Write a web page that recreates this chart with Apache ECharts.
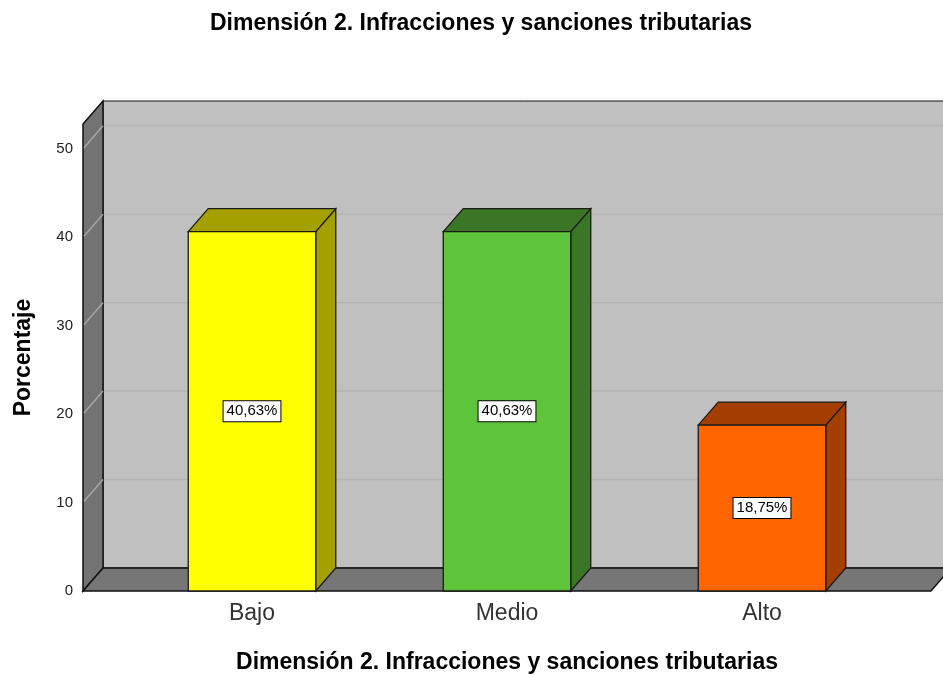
<!DOCTYPE html>
<html>
<head>
<meta charset="utf-8">
<script src="https://cdn.jsdelivr.net/npm/echarts@6/dist/echarts.min.js"></script>
<style>
html, body { margin: 0; padding: 0; background: #fff; }
#chart { width: 943px; height: 675px; }
</style>
</head>
<body>
<div id="chart"></div>
<script>
// data
const categories = ['Bajo', 'Medio', 'Alto'];
const percentages = [40.63, 40.63, 18.75];
const frontColors = ['#ffff00', '#5ec43c', '#ff6600'];
const sideColors = ['#a3a000', '#3b7526', '#a33f00'];
const gridTicks = [10, 20, 30, 40, 50];
const titleText = 'Dimensión 2. Infracciones y sanciones tributarias';

// 3D look: depth offset and wall padding around the category bands
const DX = 20, DY = -23, PAD = 41.5, Y_MAX = 52.8;
const FONT = '"Liberation Sans", Arial, sans-serif';

function renderWalls (params, api) {
  const cs = params.coordSys;
  const x0 = cs.x - PAD;
  const x1 = cs.x + cs.width + PAD;
  const yTop = api.coord([0, Y_MAX])[1];
  const yBase = api.coord([0, 0])[1];
  const children = [];
  // back wall
  children.push({
    type: 'rect',
    shape: { x: x0 + DX, y: yTop + DY, width: x1 - x0 + 20, height: yBase - yTop },
    style: { fill: '#c0c0c0', stroke: '#111', lineWidth: 1 }
  });
  // left wall
  children.push({
    type: 'polygon',
    shape: { points: [[x0, yTop], [x0 + DX, yTop + DY], [x0 + DX, yBase + DY], [x0, yBase]] },
    style: { fill: '#737373', stroke: '#111', lineWidth: 1.5 }
  });
  gridTicks.forEach(v => {
    const y = api.coord([0, v])[1];
    children.push({
      type: 'line',
      shape: { x1: x0 + DX + 1, y1: y + DY, x2: x1 + DX + 20, y2: y + DY },
      style: { stroke: '#b3b3b3', lineWidth: 1.5 }
    });
    children.push({
      type: 'line',
      shape: { x1: x0 + 1, y1: y - 1, x2: x0 + DX, y2: y + DY },
      style: { stroke: '#a6a6a6', lineWidth: 1.5 }
    });
  });
  // floor
  children.push({
    type: 'polygon',
    shape: { points: [[x0, yBase], [x0 + DX, yBase + DY], [x1 + DX, yBase + DY], [x1, yBase]] },
    style: { fill: '#767676', stroke: '#111', lineWidth: 1.5 }
  });
  return { type: 'group', children: children };
}

function renderBar (params, api) {
  const idx = params.dataIndex;
  const v = api.value(1);
  const top = api.coord([api.value(0), v]);
  const base = api.coord([api.value(0), 0]);
  const w = api.size([1, 0])[0] * 0.5;
  const xl = top[0] - w / 2;
  const xr = top[0] + w / 2;
  const yt = top[1];
  const yb = base[1];
  const edge = { stroke: '#1a1a1a', lineWidth: 1.3 };
  const label = v.toFixed(2).replace('.', ',') + '%';
  return {
    type: 'group',
    children: [
      {
        type: 'polygon',
        shape: { points: [[xr, yb], [xr + DX, yb + DY], [xr + DX, yt + DY], [xr, yt]] },
        style: Object.assign({ fill: sideColors[idx] }, edge)
      },
      {
        type: 'polygon',
        shape: { points: [[xl, yt], [xl + DX, yt + DY], [xr + DX, yt + DY], [xr, yt]] },
        style: Object.assign({ fill: sideColors[idx] }, edge)
      },
      {
        type: 'rect',
        shape: { x: xl, y: yt, width: w, height: yb - yt },
        style: Object.assign({ fill: frontColors[idx] }, edge)
      },
      {
        type: 'text',
        x: top[0],
        y: (yt + yb) / 2,
        style: {
          text: label,
          align: 'center',
          verticalAlign: 'middle',
          fill: '#000',
          fontSize: 15,
          fontFamily: FONT,
          backgroundColor: '#fff',
          borderColor: '#000',
          borderWidth: 1,
          padding: [3, 3, 2, 3]
        }
      }
    ]
  };
}

const chart = echarts.init(document.getElementById('chart'));
chart.setOption({
  animation: false,
  textStyle: { fontFamily: FONT },
  title: {
    text: titleText,
    left: 205,
    top: 7,
    textStyle: { fontSize: 23, fontWeight: 'bold', color: '#000', fontFamily: FONT }
  },
  grid: { left: 124.5, right: 53.5, top: 124, bottom: 84, outerBoundsMode: 'none' },
  xAxis: {
    type: 'category',
    data: categories,
    axisLine: { show: false },
    axisTick: { show: false },
    axisLabel: { fontSize: 23, color: '#333', margin: 11 },
    name: titleText,
    nameLocation: 'middle',
    nameGap: 60,
    nameTextStyle: { fontSize: 23, fontWeight: 'bold', color: '#000' }
  },
  yAxis: {
    type: 'value',
    min: 0,
    max: Y_MAX,
    interval: 10,
    offset: PAD,
    axisLine: { show: false },
    axisTick: { show: false },
    splitLine: { show: false },
    axisLabel: { fontSize: 15, color: '#222', margin: 10, showMaxLabel: false },
    name: 'Porcentaje',
    nameLocation: 'middle',
    nameGap: 48,
    nameTextStyle: { fontSize: 23, fontWeight: 'bold', color: '#000' }
  },
  series: [
    {
      type: 'custom',
      name: 'walls',
      silent: true,
      z: 1,
      renderItem: renderWalls,
      data: [[0, 0]]
    },
    {
      type: 'custom',
      name: 'Porcentaje',
      z: 2,
      renderItem: renderBar,
      data: categories.map((c, i) => [i, percentages[i]])
    }
  ]
});
</script>
</body>
</html>
